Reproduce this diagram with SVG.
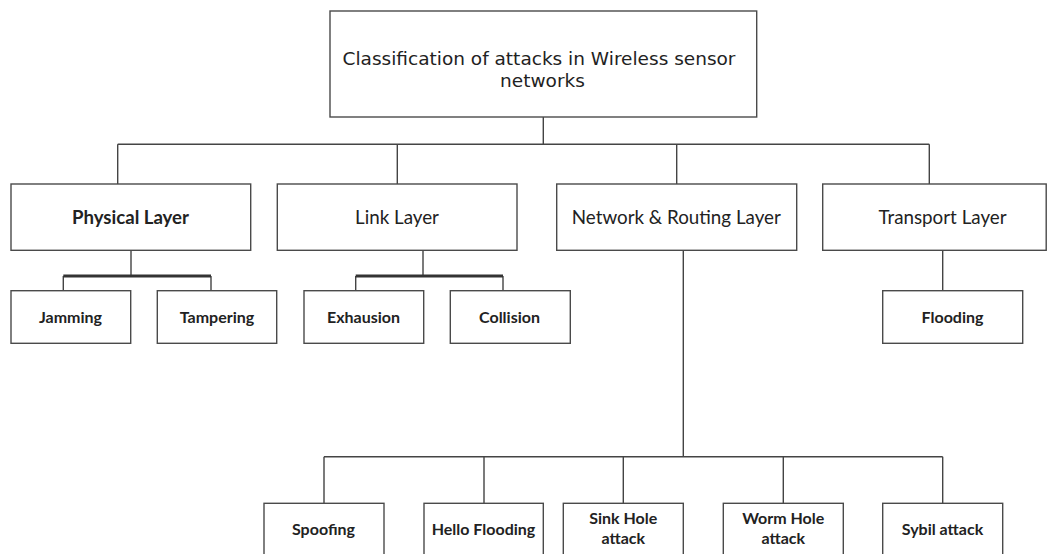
<svg xmlns="http://www.w3.org/2000/svg" width="1048" height="554" viewBox="0 0 1048 554">
<style>
  .box { fill: #ffffff; stroke: #4a4a4a; stroke-width: 1.4; }
  .ln { fill: none; stroke: #444444; stroke-width: 1.4; }
  .thick { fill: none; stroke: #333333; stroke-width: 3; }
  text { font-family: Lato, "Liberation Sans", sans-serif; fill: #222222; text-anchor: middle; }
  text.title { font-family: "DejaVu Sans", "Liberation Sans", sans-serif; font-size: 18.5px; }
  .layer { font-size: 18.8px; }
  .layerb { font-size: 18.6px; font-weight: bold; }
  .leaf { font-size: 16px; font-weight: bold; }
</style>
<rect width="1048" height="554" fill="#ffffff"/>
<g id="connectors">
  <path class="ln" d="M543.3 117 V144.3 M117.7 144.3 H929.3 M117.7 144.3 V184 M397.3 144.3 V184 M676.7 144.3 V184 M929.3 144.3 V184"/>
  <path class="ln" d="M131 250.3 V276 M63.3 276 V290.7 M211 276 V290.7"/>
  <path class="thick" d="M63.3 276 H211"/>
  <path class="ln" d="M423 250.3 V276 M355.7 276 V290.7 M503 276 V290.7"/>
  <path class="thick" d="M355.7 276 H503"/>
  <path class="ln" d="M942.7 250.3 V290.7"/>
  <path class="ln" d="M683.3 250.3 V456.7 M324 456.7 H942.7 M324 456.7 V503.3 M484 456.7 V503.3 M623.3 456.7 V503.3 M783.3 456.7 V503.3 M942.7 456.7 V503.3"/>
</g>
<g id="root">
  <rect class="box" x="330" y="11" width="426.7" height="106"/>
  <text class="title" x="539" y="65">Classification of attacks in Wireless sensor</text>
  <text class="title" x="542.5" y="87">networks</text>
</g>
<g id="physical">
  <rect class="box" x="11" y="184" width="239.7" height="66.3"/>
  <text class="layerb" x="130.5" y="224">Physical Layer</text>
</g>
<g id="link">
  <rect class="box" x="277.3" y="184" width="239.7" height="66.3"/>
  <text class="layer" x="397" y="223.5">Link Layer</text>
</g>
<g id="network">
  <rect class="box" x="556.7" y="184" width="240" height="66.3"/>
  <text class="layer" x="676.3" y="223.5">Network &amp; Routing Layer</text>
</g>
<g id="transport">
  <rect class="box" x="822.7" y="184" width="223.5" height="66.3"/>
  <text class="layer" x="942.5" y="223.5">Transport Layer</text>
</g>
<g id="jamming">
  <rect class="box" x="11" y="290.7" width="119.7" height="52.6"/>
  <text class="leaf" x="70.5" y="322.7">Jamming</text>
</g>
<g id="tampering">
  <rect class="box" x="157.3" y="290.7" width="119.4" height="52.6"/>
  <text class="leaf" x="217" y="322.7">Tampering</text>
</g>
<g id="exhausion">
  <rect class="box" x="304" y="290.7" width="119.7" height="52.6"/>
  <text class="leaf" x="363.5" y="322.7">Exhausion</text>
</g>
<g id="collision">
  <rect class="box" x="450.3" y="290.7" width="120" height="52.6"/>
  <text class="leaf" x="509.5" y="322.7">Collision</text>
</g>
<g id="flooding">
  <rect class="box" x="882.7" y="290.7" width="140" height="52.6"/>
  <text class="leaf" x="952.5" y="322.7">Flooding</text>
</g>
<g id="spoofing">
  <rect class="box" x="264" y="503.3" width="120" height="56"/>
  <text class="leaf" x="323.5" y="535">Spoofing</text>
</g>
<g id="hello-flooding">
  <rect class="box" x="424" y="503.3" width="119.3" height="56"/>
  <text class="leaf" x="483.5" y="535">Hello Flooding</text>
</g>
<g id="sink-hole">
  <rect class="box" x="563.3" y="503.3" width="120" height="56"/>
  <text class="leaf" x="623.3" y="524">Sink Hole</text>
  <text class="leaf" x="623.3" y="544">attack</text>
</g>
<g id="worm-hole">
  <rect class="box" x="723.3" y="503.3" width="120" height="56"/>
  <text class="leaf" x="783.3" y="524">Worm Hole</text>
  <text class="leaf" x="783.3" y="544">attack</text>
</g>
<g id="sybil">
  <rect class="box" x="882.7" y="503.3" width="120" height="56"/>
  <text class="leaf" x="942.5" y="535">Sybil attack</text>
</g>
</svg>
